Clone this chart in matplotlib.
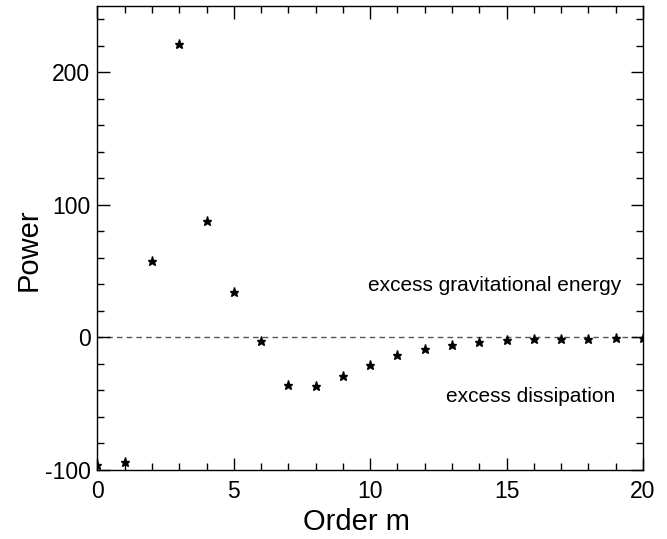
import matplotlib.pyplot as plt
from matplotlib.ticker import MultipleLocator

plt.rcParams['font.family'] = ['Liberation Sans', 'DejaVu Sans']
plt.rcParams['axes.unicode_minus'] = False

# power per azimuthal order m
order_m = list(range(0, 21))
power = [-96, -94, 58, 221, 88, 34, -3, -36, -37, -29, -20.5,
         -13, -8.5, -5.4, -3.1, -1.8, -1.3, -1.2, -1.0, -0.8, -0.5]

fig = plt.figure(figsize=(6.67, 5.39), dpi=100)
ax = fig.add_axes([0.146, 0.128, 0.818, 0.861])

# zero line
ax.axhline(0, color='#555555', linestyle=(0, (4, 3)), linewidth=1.0, zorder=1)

ax.plot(order_m, power, linestyle='none', marker='*', color='black',
        markersize=6.5, zorder=3)

ax.set_xlim(0, 20)
ax.set_ylim(-100, 250)
ax.xaxis.set_major_locator(MultipleLocator(5))
ax.xaxis.set_minor_locator(MultipleLocator(1))
ax.yaxis.set_major_locator(MultipleLocator(100))
ax.yaxis.set_minor_locator(MultipleLocator(20))
ax.tick_params(which='both', direction='in', top=True, right=True,
               labelsize=16.5, width=1)
ax.tick_params(which='major', length=9)
ax.tick_params(which='minor', length=5)
ax.tick_params(axis='x', pad=7)
ax.tick_params(axis='y', pad=5)
for s in ax.spines.values():
    s.set_linewidth(1)

ax.set_xlabel('Order m', fontsize=21)
ax.set_ylabel('Power', fontsize=21)
ax.xaxis.set_label_coords(0.475, -0.081)
ax.yaxis.set_label_coords(-0.10, 0.474)

ax.text(19.2, 39.5, 'excess gravitational energy', fontsize=15,
        ha='right', va='center')
ax.text(19.0, -44.5, 'excess dissipation', fontsize=15,
        ha='right', va='center')

fig.savefig('out.png', dpi=100)
